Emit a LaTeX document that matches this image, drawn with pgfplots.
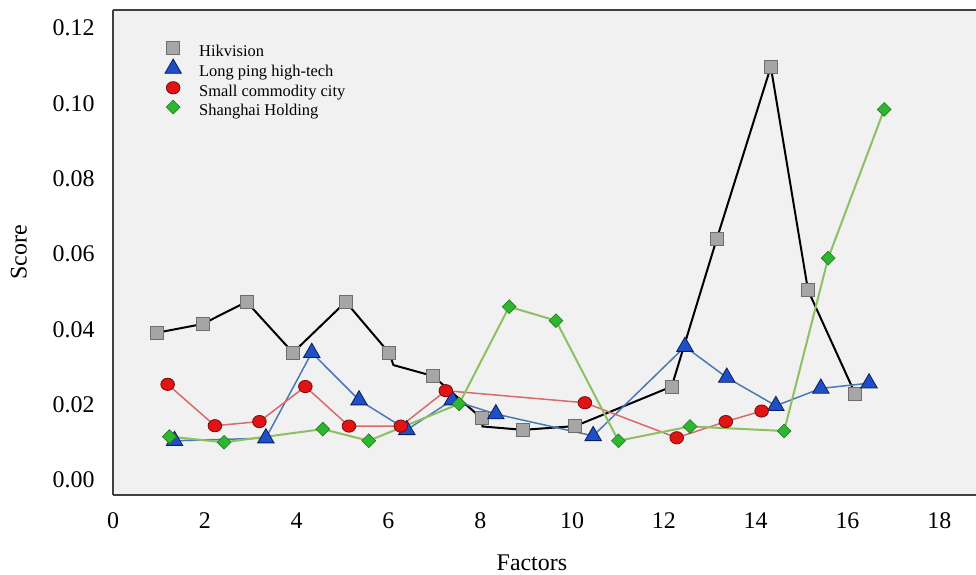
\documentclass[border=0pt]{standalone}
\usepackage{fontspec}
\setmainfont{Liberation Serif}
\usepackage{pgfplots}
\pgfplotsset{compat=1.18}
\definecolor{bgc}{HTML}{F1F1F1}
\definecolor{axisc}{HTML}{404040}
\definecolor{hkfill}{HTML}{A6A6A6}
\definecolor{hkedge}{HTML}{6E6E6E}
\definecolor{lpfill}{HTML}{1F4FC8}
\definecolor{lpedge}{HTML}{0A1F5A}
\definecolor{lpline}{HTML}{4A7AB5}
\definecolor{scfill}{HTML}{E01414}
\definecolor{scedge}{HTML}{7A0A0A}
\definecolor{scline}{HTML}{D86A6A}
\definecolor{shfill}{HTML}{2FB52F}
\definecolor{shedge}{HTML}{1E7A1E}
\definecolor{shline}{HTML}{8CC063}
\begin{document}
\begin{tikzpicture}
\useasboundingbox (-113bp,-80bp) rectangle (863bp,495bp);
\begin{axis}[
  at={(0,0)}, anchor=south west,
  scale only axis, width=863bp, height=485bp,
  xmin=0, xmax=18.80, ymin=-0.004, ymax=0.1248,
  axis x line=box, axis y line=left,
  axis line style={-, draw=axisc, line width=1.5bp},
  axis background/.style={fill=bgc},
  xtick={0,2,4,6,8,10,12,14,16,18},
  ytick={0,0.02,0.04,0.06,0.08,0.10,0.12},
  scaled y ticks=false,
  major tick length=0pt,
  /pgf/number format/assume math mode=true,
  yticklabel style={/pgf/number format/.cd, fixed, fixed zerofill, precision=2, /tikz/.cd, font=\fontsize{24}{24}\selectfont, xshift=-15bp},
  xticklabel style={font=\fontsize{24}{24}\selectfont, yshift=-14bp},
  xlabel={Factors}, ylabel={Score},
  every axis x label/.style={at={(axis description cs:0.4854,-0.139)}, anchor=center, font=\fontsize{24}{24}\selectfont},
  every axis y label/.style={at={(axis description cs:-0.109,0.5)}, rotate=90, anchor=center, font=\fontsize{24}{24}\selectfont},
  legend style={at={(axis description cs:0.0579,0.939)}, anchor=north west, draw=none, fill=none, inner sep=0pt,
    font=\fontsize{16.5}{19}\selectfont, row sep=-0.5bp,
    nodes={inner sep=0pt, text height=11bp, text depth=3.5bp}},
  legend cell align=left,
  legend image code/.code={\path[draw=none,fill=none] (-10bp,-1.5bp) rectangle (26bp,12.5bp); \draw[#1] plot[only marks] coordinates {(0bp,4.5bp)};},
]
\addplot[line width=2bp, black, mark=square*, mark size=6.5bp,
  mark options={fill=hkfill, draw=hkedge, line width=0.8bp, solid},
  mark indices={1,2,3,4,5,6,8,9,11,12,13,14,15,16,17}]
  coordinates {(0.96,0.0391) (1.95,0.0414) (2.91,0.0473) (3.92,0.0338) (5.07,0.0473) (6.01,0.0338) (6.11,0.0305) (6.97,0.0276) (8.03,0.0164) (8.05,0.0142) (8.93,0.0133) (10.07,0.0143) (12.17,0.0248) (13.15,0.0639) (14.33,0.1097) (15.14,0.0504) (16.17,0.0228)};
\addlegendentry{Hikvision}
\addplot[line width=1.5bp, lpline, mark=triangle*, mark size=9.5bp,
  mark options={fill=lpfill, draw=lpedge, line width=0.8bp, solid}]
  coordinates {(1.34,0.0104) (3.33,0.0111) (4.33,0.0338) (5.36,0.0212) (6.40,0.0133) (7.39,0.0212) (8.34,0.0175) (10.46,0.0117) (12.46,0.0354) (13.37,0.0272) (14.44,0.0197) (15.42,0.0243) (16.47,0.0257)};
\addlegendentry{Long ping high-tech}
\addplot[line width=1.5bp, scline, mark=*, mark size=6.8bp,
  mark options={fill=scfill, draw=scedge, line width=0.8bp, solid, yscale=0.9}]
  coordinates {(1.19,0.0254) (2.22,0.0144) (3.19,0.0155) (4.19,0.0248) (5.14,0.0143) (6.27,0.0143) (7.25,0.0237) (10.28,0.0205) (12.28,0.0112) (13.35,0.0155) (14.13,0.0183)};
\addlegendentry{Small commodity city}
\addplot[line width=2bp, shline, mark=square*, mark size=4.9bp,
  mark options={fill=shfill, draw=shedge, line width=0.6bp, solid, rotate=45}]
  coordinates {(1.23,0.0115) (2.42,0.0100) (4.57,0.0135) (5.57,0.0104) (7.54,0.0202) (8.63,0.0460) (9.65,0.0423) (11.01,0.0104) (12.57,0.0142) (14.62,0.0130) (15.58,0.0589) (16.80,0.0984)};
\addlegendentry{Shanghai Holding}
\end{axis}
\end{tikzpicture}
\end{document}
